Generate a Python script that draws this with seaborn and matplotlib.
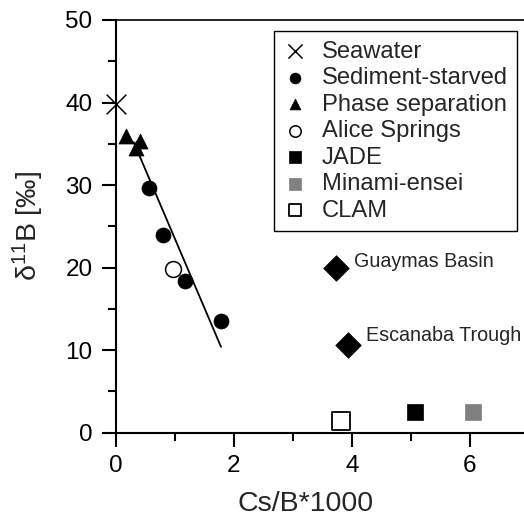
import matplotlib
matplotlib.use("Agg")
import matplotlib.pyplot as plt
import seaborn as sns
import pandas as pd
from matplotlib.ticker import MultipleLocator

# ---- data ----
seawater_x = [0.0]
seawater_y = [39.8]
sediment_x = [0.56, 0.80, 1.17, 1.78]
sediment_y = [29.7, 23.9, 18.4, 13.5]
phase_x = [0.17, 0.41, 0.34]
phase_y = [36.0, 35.3, 34.5]
alice_x = [0.97]
alice_y = [19.8]
jade_x = [5.07]
jade_y = [2.5]
minami_x = [6.05]
minami_y = [2.5]
clam_x = [3.81]
clam_y = [1.4]
sediment_basin_names = ["Guaymas Basin", "Escanaba Trough"]
sediment_basin_x = [3.73, 3.93]
sediment_basin_y = [20.0, 10.6]
trend_x = [0.30, 1.78]
trend_y = [35.2, 10.4]

sns.set_style("ticks")
plt.rcParams['font.family'] = ['Liberation Sans', 'DejaVu Sans']
plt.rcParams['mathtext.default'] = 'regular'

fig = plt.figure(figsize=(5.24, 5.18), dpi=100)
W, H = 524, 518
x0, x7 = 116, 529
ytop, ybot = 20, 432.7
ax = fig.add_axes([x0 / W, (H - ybot) / H, (x7 - x0) / W, (ybot - ytop) / H])

# regression line
sns.lineplot(x=trend_x, y=trend_y, ax=ax, color='black', linewidth=1.3, zorder=1)

sns.scatterplot(x=seawater_x, y=seawater_y, ax=ax, marker='x', s=200, color='black',
                linewidth=1.1, label='Seawater', zorder=5, clip_on=False)
sns.scatterplot(x=sediment_x, y=sediment_y, ax=ax, marker='o', s=117, color='black',
                edgecolor='black', linewidth=0.5, label='Sediment-starved', zorder=3)
sns.scatterplot(x=phase_x, y=phase_y, ax=ax, marker='^', s=117, color='black',
                edgecolor='black', linewidth=0.5, label='Phase separation', zorder=3)
sns.scatterplot(x=alice_x, y=alice_y, ax=ax, marker='o', s=130, color='white',
                edgecolor='black', linewidth=1.1, label='Alice Springs', zorder=3)
sns.scatterplot(x=jade_x, y=jade_y, ax=ax, marker='s', s=144, color='black',
                edgecolor='black', linewidth=0.5, label='JADE', zorder=3)
sns.scatterplot(x=minami_x, y=minami_y, ax=ax, marker='s', s=144, color='#808080',
                edgecolor='#808080', linewidth=0.5, label='Minami-ensei', zorder=3)
sns.scatterplot(x=clam_x, y=clam_y, ax=ax, marker='s', s=150, color='white',
                edgecolor='black', linewidth=1.3, label='CLAM', zorder=3)
sns.scatterplot(x=sediment_basin_x, y=sediment_basin_y, ax=ax, marker='D', s=170,
                color='black', edgecolor='black', linewidth=0.5, legend=False, zorder=3)

text_offsets = [(0.30, 0.1), (0.31, 0.55)]
for name, bx, by, (dx, dy) in zip(sediment_basin_names, sediment_basin_x,
                                  sediment_basin_y, text_offsets):
    ax.text(bx + dx, by + dy, name, fontsize=14.2, ha='left', va='baseline')

ax.set_xlim(0, 7)
ax.set_ylim(0, 50)
ax.xaxis.set_major_locator(MultipleLocator(2))
ax.xaxis.set_minor_locator(MultipleLocator(1))
ax.yaxis.set_major_locator(MultipleLocator(10))
ax.yaxis.set_minor_locator(MultipleLocator(5))
ax.tick_params(which='major', direction='out', length=10, width=1.5, labelsize=17.5,
               color='black', labelcolor='black')
ax.tick_params(axis='x', which='major', pad=6)
ax.tick_params(axis='y', which='major', pad=7)
ax.tick_params(which='minor', direction='out', length=5.5, width=1.5, color='black')

for side in ['left', 'bottom', 'top']:
    ax.spines[side].set_color('black')
    ax.spines[side].set_linewidth(1.5)
ax.spines['top'].set_linewidth(1.2)
ax.spines['right'].set_visible(False)

ax.set_xlabel('Cs/B*1000', fontsize=20.5)
ax.set_ylabel('δ$^{11}$B [‰]', fontsize=20.5)
ax.xaxis.set_label_coords(0.458, -0.141)
ax.yaxis.set_label_coords(-0.17, 0.5)

leg = ax.legend(loc='upper left', bbox_to_anchor=(274 / W, 1 - 31 / H),
                bbox_transform=fig.transFigure, borderaxespad=0, fontsize=17.1,
                frameon=True, fancybox=False, edgecolor='black', framealpha=1,
                markerscale=0.72, handlelength=1.0, handletextpad=0.6,
                labelspacing=0.19, borderpad=0.4)
leg.get_frame().set_linewidth(1.0)

fig.savefig('out.png', dpi=100)
